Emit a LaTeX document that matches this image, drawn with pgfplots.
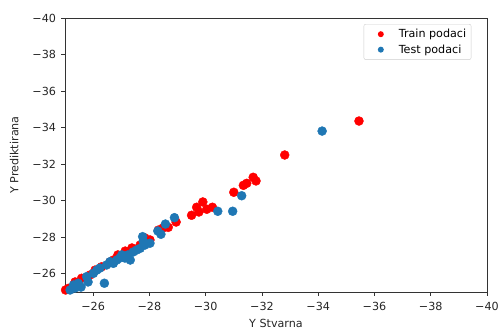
\documentclass[border=0pt]{standalone}
\usepackage{pgfplots}
\pgfplotsset{compat=1.18}
\usepackage{fontspec}
\setmainfont{DejaVu Sans}
\definecolor{tabblue}{RGB}{31,119,180}
\begin{document}
\begin{tikzpicture}
\useasboundingbox (-65bp,-40bp) rectangle (435bp,292bp);
\begin{axis}[
  scale only axis, width=422bp, height=274bp,
  x dir=reverse, y dir=reverse,
  xmin=-40, xmax=-25, ymin=-40, ymax=-25,
  xtick={-26,-28,-30,-32,-34,-36,-38,-40},
  xticklabels={−26,−28,−30,−32,−34,−36,−38,−40},
  ytick={-26,-28,-30,-32,-34,-36,-38,-40},
  yticklabels={−26,−28,−30,−32,−34,−36,−38,−40},
  tick align=outside, xtick pos=bottom, ytick pos=left,
  major tick length=3.5bp,
  tick style={black!80, line width=0.6pt},
  axis line style={black!80, line width=0.6pt},
  ticklabel style={font=\fontsize{11.2}{13}\selectfont, text=black!85},
  xticklabel style={yshift=-3bp},
  yticklabel style={xshift=-2bp},
  label style={font=\fontsize{11.2}{13}\selectfont, text=black!85},
  xlabel={Y Stvarna}, ylabel={Y Prediktirana},
  xlabel style={yshift=-2bp},
  ylabel style={yshift=7bp},
  legend style={at={(0.963,0.978)}, anchor=north east, draw=black!20, rounded corners=2pt,
    font=\fontsize{11.2}{13}\selectfont, row sep=1.5pt, inner xsep=3pt, inner ysep=3pt},
  legend cell align=left,
  legend image code/.code={\path (0bp,0bp) -- (30bp,0bp); \fill[#1] (14bp,0bp) circle (3bp);},
  clip=true,
]
\addplot[only marks, mark=*, mark size=4.5bp, color=red, draw=none, mark options={draw=none, fill=red}] coordinates {
(-35.45,-34.36) (-32.81,-32.50) (-31.69,-31.28) (-31.79,-31.08) (-31.46,-30.95)
(-31.34,-30.84) (-31.00,-30.46) (-30.24,-29.64) (-29.90,-29.93) (-29.68,-29.64)
(-29.76,-29.38) (-29.50,-29.20) (-30.04,-29.53) (-28.67,-28.54) (-28.32,-28.39)
(-28.02,-27.85) (-27.14,-27.24) (-26.72,-26.75) (-26.30,-26.38) (-25.89,-25.93)
(-25.59,-25.75) (-25.12,-25.20) (-25.02,-25.11) (-27.67,-27.57) (-27.38,-27.41)
(-26.88,-27.03) (-26.07,-26.20) (-25.36,-25.55) (-26.60,-26.64) (-27.84,-27.96)
(-28.48,-28.50) (-28.95,-28.83)
};
\addlegendentry{Train podaci}
\addplot[only marks, mark=*, mark size=4.5bp, color=tabblue, draw=none, mark options={draw=none, fill=tabblue}] coordinates {
(-34.14,-33.81) (-31.28,-30.27) (-30.43,-29.42) (-30.96,-29.42) (-28.89,-29.07)
(-28.57,-28.72) (-28.30,-28.34) (-28.41,-28.16) (-28.02,-27.67) (-27.76,-28.03)
(-27.78,-27.79) (-27.67,-27.39) (-27.55,-27.30) (-27.32,-26.75) (-27.02,-27.03)
(-26.84,-26.75) (-26.72,-26.57) (-26.60,-26.66) (-26.48,-26.48) (-26.40,-25.48)
(-26.13,-26.20) (-26.01,-26.02) (-25.77,-25.84) (-25.47,-25.48) (-25.30,-25.38)
(-25.36,-25.22) (-25.57,-25.27) (-27.24,-27.03) (-27.42,-27.19) (-27.13,-26.86)
(-27.84,-27.57) (-26.95,-26.86) (-26.24,-26.31) (-25.82,-25.55) (-25.18,-25.11)
};
\addlegendentry{Test podaci}
\end{axis}
\end{tikzpicture}
\end{document}
